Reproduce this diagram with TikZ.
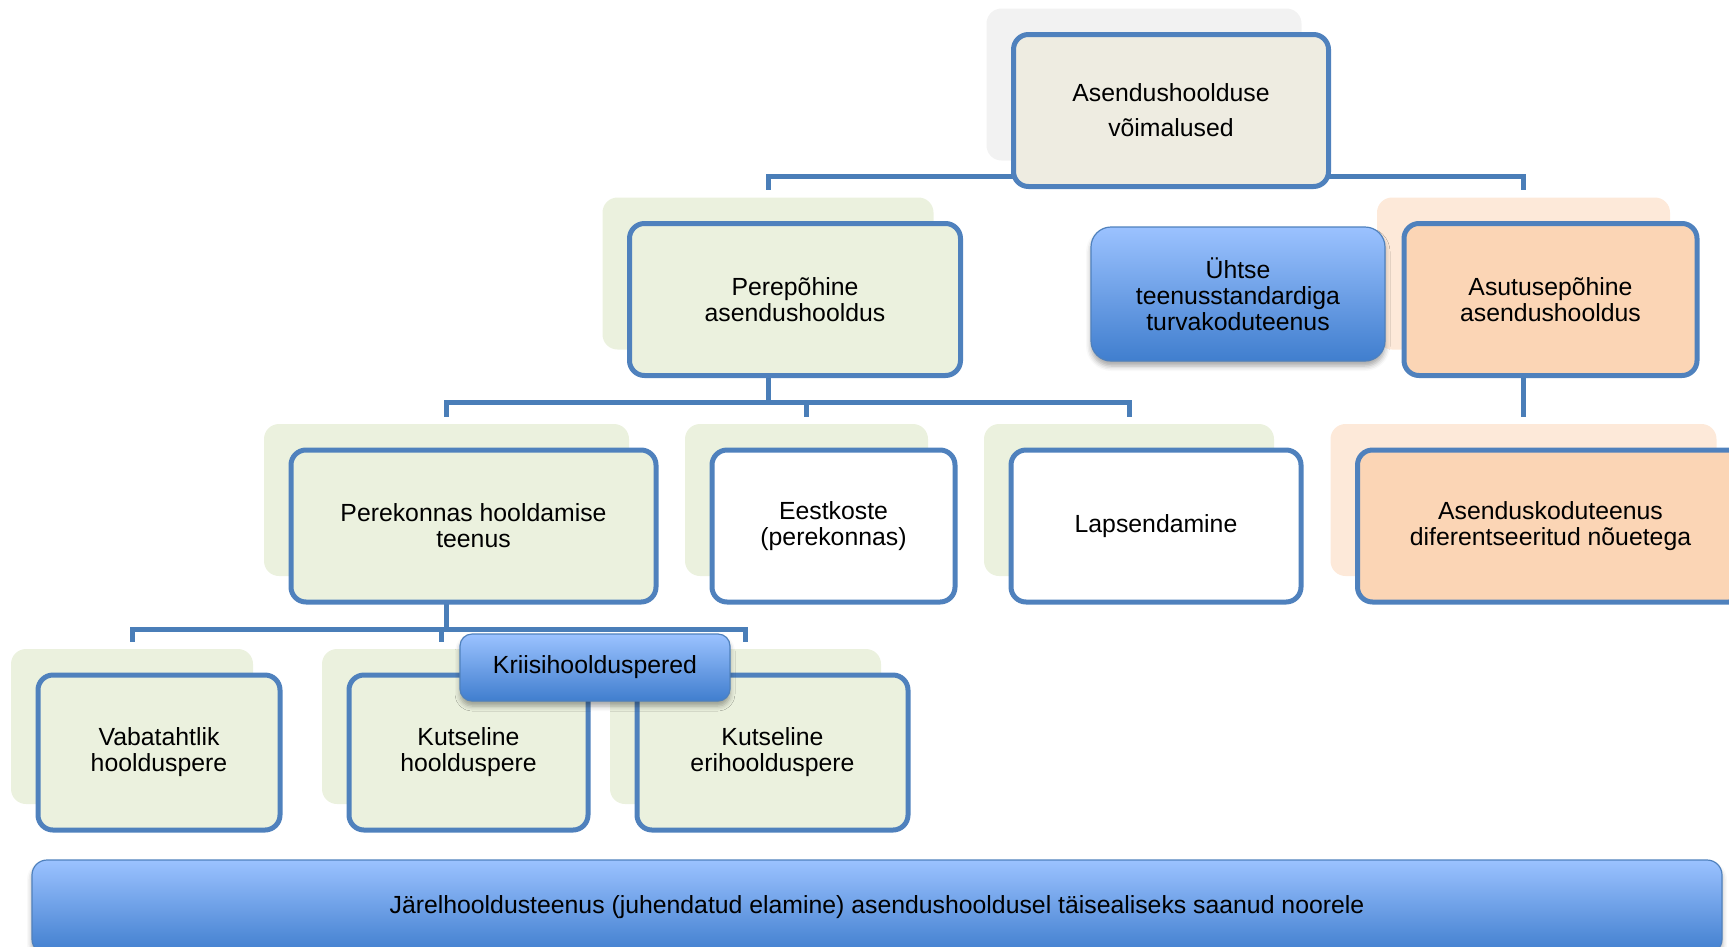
\documentclass[tikz,border=0pt]{standalone}
\usepackage{fontspec}
\newfontfamily\boxfont{Liberation Sans}
\usetikzlibrary{shadows,shadows.blur,backgrounds}
\definecolor{boxline}{RGB}{79,129,189}
\definecolor{connline}{RGB}{74,126,184}
\definecolor{topfill}{RGB}{238,236,225}
\definecolor{topback}{RGB}{242,242,242}
\definecolor{greenfill}{RGB}{235,241,222}
\definecolor{orangefill}{RGB}{251,213,181}
\definecolor{orangeback}{RGB}{253,233,217}
\definecolor{gradtop}{RGB}{155,194,255}
\definecolor{gradbot}{RGB}{64,126,206}
\definecolor{gradline}{RGB}{79,129,189}

\begin{document}
\begin{tikzpicture}[x=1pt,y=-1pt,
  box/.style={draw=boxline,line width=5pt,rounded corners=15pt,minimum height=152pt,
    inner sep=0pt,align=center,font=\boxfont\fontsize{24.8}{26}\selectfont},
  back/.style={general shadow={shadow xshift=-27pt,shadow yshift=26pt,fill=#1}},
  lay/.style={xshift=-27pt,yshift=26pt},
  conn/.style={draw=connline,line width=5pt},
  gradbox/.style={draw=gradline,line width=1.2pt,top color=gradtop,bottom color=gradbot,
    inner sep=0pt,align=center,font=\boxfont\fontsize{24.8}{26}\selectfont,
    blur shadow={shadow xshift=0pt,shadow yshift=-5pt,shadow blur radius=5pt,shadow opacity=35}}
]
  \useasboundingbox (0,0) rectangle (1729,946);

  % Level 1
  \node[box,back=topback,fill=topfill,minimum width=315pt,
    font=\boxfont\fontsize{24.8}{35}\selectfont] (root) at (1171,110.5) {Asendushoolduse\\võimalused};

  % Level 2
  \node[box,back=greenfill,fill=greenfill,minimum width=331pt] (pere) at (795,299.5) {Perepõhine\\asendushooldus};
  \node[box,back=orangeback,fill=orangefill,minimum width=293pt] (asutus) at (1550.5,299.5) {Asutusepõhine\\asendushooldus};
  \node[gradbox,rounded corners=20pt,minimum width=294pt,minimum height=134pt] (turva) at (1238,294)
    {Ühtse\\teenusstandardiga\\turvakoduteenus};

  % Level 3
  \node[box,back=greenfill,fill=greenfill,minimum width=365pt] (perekonnas) at (473.5,526) {Perekonnas hooldamise\\teenus};
  \node[box,back=greenfill,fill=white,minimum width=243pt] (eestkoste) at (833.5,526) {Eestkoste\\(perekonnas)};
  \node[box,back=greenfill,fill=white,minimum width=290pt] (lapsend) at (1156,526) {Lapsendamine};
  \node[box,back=orangeback,fill=orangefill,minimum width=386pt] (asendusk) at (1550.5,526)
    {Asenduskoduteenus\\diferentseeritud nõuetega};

  % Level 4
  \node[box,back=greenfill,fill=greenfill,minimum width=242pt,minimum height=155pt] (vaba) at (159,752.5) {Vabatahtlik\\hoolduspere};
  \node[box,back=greenfill,fill=greenfill,minimum width=239pt,minimum height=155pt] (kutse) at (468.5,752.5) {Kutseline\\hoolduspere};
  \node[box,back=greenfill,fill=greenfill,minimum width=271pt,minimum height=155pt] (eri) at (772.5,752.5) {Kutseline\\erihoolduspere};
  \node[gradbox,rounded corners=12pt,minimum width=270pt,minimum height=67pt] (kriisi) at (595,667.5) {Kriisihoolduspered};

  % Bottom bar
  \node[gradbox,rounded corners=15pt,minimum width=1690pt,minimum height=94pt] (jarel) at (877,907)
    {Järelhooldusteenus (juhendatud elamine) asendushooldusel täisealiseks saanud noorele};

  % Connectors
  \begin{scope}[on background layer]
    \draw[conn] ([lay]root.south) -- ++(0,13) coordinate (bus1);
    \draw[conn,shorten >=5pt] (bus1) -| ([lay]pere.north);
    \draw[conn,shorten >=5pt] (bus1) -| ([lay]asutus.north);
    \draw[conn] ([lay]pere.south) -- ++(0,50) coordinate (bus2);
    \draw[conn,shorten >=5pt] (bus2) -| ([lay]perekonnas.north);
    \draw[conn,shorten >=5pt] (bus2) -| ([lay]eestkoste.north);
    \draw[conn,shorten >=5pt] (bus2) -| ([lay]lapsend.north);
    \draw[conn] ([lay]perekonnas.south) -- ++(0,51) coordinate (bus3);
    \draw[conn,shorten >=5pt] (bus3) -| ([lay]vaba.north);
    \draw[conn,shorten >=5pt] (bus3) -| ([lay]kutse.north);
    \draw[conn,shorten >=5pt] (bus3) -| ([lay]eri.north);
    \draw[conn,shorten >=5pt] ([lay]asutus.south) -- ([lay]asendusk.north);
  \end{scope}
\end{tikzpicture}
\end{document}
